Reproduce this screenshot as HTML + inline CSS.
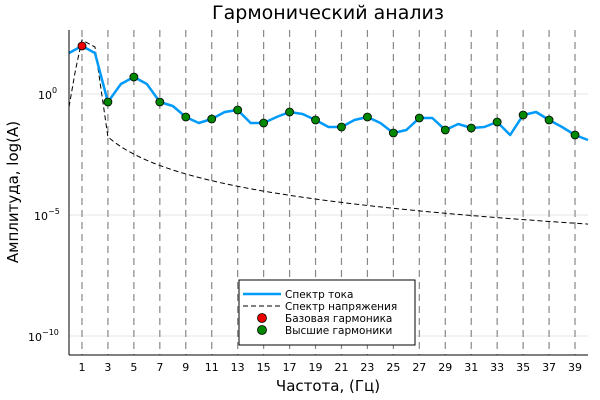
<!DOCTYPE html>
<html><head><meta charset="utf-8"><style>body{margin:0;background:#fff}svg{display:block}</style></head>
<body>
<svg id="s" width="600" height="400" xmlns="http://www.w3.org/2000/svg" font-family="DejaVu Sans, Liberation Sans, sans-serif">
<rect width="600" height="400" fill="#fff"/>
<text x="328" y="19" font-size="19" text-anchor="middle">Гармонический анализ</text>
<g stroke="#e6e6e6" stroke-width="1">
<line x1="69" x2="588" y1="94" y2="94"/><line x1="69" x2="588" y1="215" y2="215"/><line x1="69" x2="588" y1="336" y2="336"/>
</g>
<g id="vg" stroke="#888" stroke-width="1.2" stroke-dasharray="7,5"></g>
<polyline id="volt" fill="none" stroke="#000" stroke-width="1" stroke-dasharray="5,3"/>
<polyline id="cur" fill="none" stroke="#009af9" stroke-width="2.5" stroke-linejoin="round"/>
<g id="dots" stroke="#000" stroke-width="0.8"></g>
<line x1="69" y1="30" x2="69" y2="355" stroke="#000"/>
<line x1="69" y1="355" x2="588" y2="355" stroke="#000"/>
<g font-size="11">
<text x="38" y="99">10<tspan font-size="8" dy="-6">0</tspan></text>
<text x="34" y="220">10<tspan font-size="8" dy="-6">−5</tspan></text>
<text x="28" y="341">10<tspan font-size="8" dy="-6">−10</tspan></text>
</g>
<g id="xt" font-size="11" text-anchor="middle"></g>
<text x="328" y="391" font-size="15" text-anchor="middle">Частота, (Гц)</text>
<text transform="translate(18,192) rotate(-90)" font-size="15" text-anchor="middle">Амплитуда, log(A)</text>
<rect x="239" y="280" width="176" height="65" fill="#fff" stroke="#000" stroke-width="1"/>
<line x1="243" x2="281" y1="294" y2="294" stroke="#009af9" stroke-width="2.5"/>
<line x1="243" x2="281" y1="306" y2="306" stroke="#000" stroke-dasharray="5,3"/>
<circle cx="262" cy="318" r="4.5" fill="#e00" stroke="#000" stroke-width="0.8"/>
<circle cx="262" cy="330" r="4.5" fill="#080" stroke="#000" stroke-width="0.8"/>
<g font-size="10.5"><text x="285" y="298">Спектр тока</text><text x="285" y="310">Спектр напряжения</text><text x="285" y="322">Базовая гармоника</text><text x="285" y="334">Высшие гармоники</text></g>
</svg>
<script>
var X=function(n){return 69+n*12.975};
var cy=[53,46,53,102,84,77,84,102,106,117,123,119,112,110,123,123,117,112,114,120,127,127,120,117,123,133,130,118,118,130,124,128,127,122,135,115,112,120,127,135,140];
var ns="http://www.w3.org/2000/svg";
document.getElementById('cur').setAttribute('points',cy.map(function(y,i){return X(i)+','+y}).join(' '));
var vp=[[0,107],[0.5,70],[1,40],[2,47],[3,137]];
for(var n=3.5;n<=40;n+=0.5)vp.push([n,137+77.4*Math.log10(n/3)]);
document.getElementById('volt').setAttribute('points',vp.map(function(p){return X(p[0])+','+p[1]}).join(' '));
var vg=document.getElementById('vg'),xt=document.getElementById('xt'),d=document.getElementById('dots');
for(var k=1;k<=39;k+=2){
var l=document.createElementNS(ns,'line');l.setAttribute('x1',X(k));l.setAttribute('x2',X(k));l.setAttribute('y1',30);l.setAttribute('y2',355);vg.appendChild(l);
var t=document.createElementNS(ns,'text');t.setAttribute('x',X(k));t.setAttribute('y',371);t.textContent=k;xt.appendChild(t);
var c=document.createElementNS(ns,'circle');c.setAttribute('cx',X(k));c.setAttribute('cy',cy[k]);c.setAttribute('r',4);c.setAttribute('fill',k==1?'#e00':'#080');d.appendChild(c);}
</script>
</body></html>
